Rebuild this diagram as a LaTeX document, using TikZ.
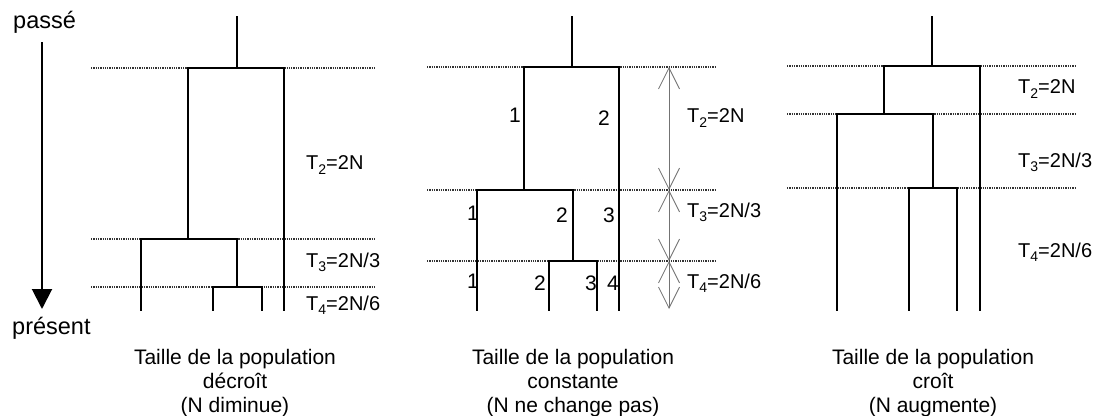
\documentclass[tikz,border=0pt]{standalone}
\usepackage{fontspec}
\setmainfont{Liberation Sans}
\usetikzlibrary{arrows.meta}
\newcommand\sbs[1]{\raisebox{-0.4ex}{\fontsize{14}{14}\selectfont #1}}
\begin{document}
\begin{tikzpicture}[x=1pt,y=-1pt,
  tree/.style={line width=2.2pt,line cap=rect,line join=miter},
  dotline/.style={line width=1.6pt,black!80,dash pattern=on 1.3pt off 1.0pt},
  lab/.style={anchor=west,inner sep=0pt,font=\fontsize{20}{22}\selectfont},
  num/.style={inner sep=0pt,font=\fontsize{21}{23}\selectfont},
  captxt/.style={anchor=base,inner sep=0pt,font=\fontsize{21}{24}\selectfont},
  side/.style={anchor=base west,inner sep=0pt,font=\fontsize{23.5}{26}\selectfont},
  dbl/.style={line width=0.8pt,black!55,{Straight Barb[length=21pt,width=21pt]}-{Straight Barb[length=21pt,width=21pt]}}]
\useasboundingbox (0,0) rectangle (1108,415);
\fill[white] (0,0) rectangle (1108,415);

% time axis
\node[side] (passe) at (13,28) {passé};
\node[side] (present) at (12,334) {présent};
\draw[line width=2pt,-{Triangle[length=20pt,width=20pt]}] (42,42) -- (42,309);

% ---------- panel 1 ----------
\draw[dotline] (91,68) -- (375,68);
\draw[dotline] (91,239) -- (375,239);
\draw[dotline] (91,287) -- (375,287);
\draw[tree] (237,17) -- (237,68);
\draw[tree] (188,239) -- (188,68) -- (284,68) -- (284,310);
\draw[tree] (141,310) -- (141,239) -- (237,239) -- (237,287);
\draw[tree] (213,310) -- (213,287) -- (262,287) -- (262,310);
\node[lab] (a2) at (306,165) {T\sbs{2}=2N};
\node[lab] (a3) at (306,262) {T\sbs{3}=2N/3};
\node[lab] (a4) at (306,305) {T\sbs{4}=2N/6};
\node[captxt] (ac1) at (235,364) {Taille de la population};
\node[captxt] (ac2) at (235,388) {décroît};
\node[captxt] (ac3) at (235,412) {(N diminue)};

% ---------- panel 2 ----------
\draw[dotline] (427,67) -- (715,67);
\draw[dotline] (427,190) -- (715,190);
\draw[dotline] (427,261) -- (715,261);
\draw[tree] (572,17) -- (572,67);
\draw[tree] (524,190) -- (524,67) -- (619,67) -- (619,310);
\draw[tree] (477,310) -- (477,190) -- (573,190) -- (573,261);
\draw[tree] (549,310) -- (549,261) -- (597,261) -- (597,310);
\coordinate (m1) at (669,67);
\coordinate (m2) at (669,190);
\coordinate (m3) at (669,261);
\coordinate (m4) at (669,309);
\draw[dbl] (m1) -- (m2);
\draw[dbl] (m2) -- (m3);
\draw[dbl] (m3) -- (m4);
\node[num] (n11) at (515,115) {1};
\node[num] (n12) at (604,118) {2};
\node[num] (n21) at (473,213) {1};
\node[num] (n22) at (562,215) {2};
\node[num] (n23) at (609,215) {3};
\node[num] (n31) at (473,281) {1};
\node[num] (n32) at (540,283) {2};
\node[num] (n33) at (591,283) {3};
\node[num] (n34) at (613,283) {4};
\node[lab] (b2) at (687,118) {T\sbs{2}=2N};
\node[lab] (b3) at (687,212) {T\sbs{3}=2N/3};
\node[lab] (b4) at (687,283) {T\sbs{4}=2N/6};
\node[captxt] (bc1) at (573,364) {Taille de la population};
\node[captxt] (bc2) at (573,388) {constante};
\node[captxt] (bc3) at (573,412) {(N ne change pas)};

% ---------- panel 3 ----------
\draw[dotline] (787,66) -- (1076,66);
\draw[dotline] (787,114) -- (1076,114);
\draw[dotline] (787,188) -- (1076,188);
\draw[tree] (932,17) -- (932,66);
\draw[tree] (884,114) -- (884,66) -- (980,66) -- (980,310);
\draw[tree] (837,310) -- (837,114) -- (933,114) -- (933,188);
\draw[tree] (909,310) -- (909,188) -- (957,188) -- (957,310);
\node[lab] (c2) at (1018,89) {T\sbs{2}=2N};
\node[lab] (c3) at (1018,162) {T\sbs{3}=2N/3};
\node[lab] (c4) at (1018,252) {T\sbs{4}=2N/6};
\node[captxt] (cc1) at (933,364) {Taille de la population};
\node[captxt] (cc2) at (933,388) {croît};
\node[captxt] (cc3) at (933,412) {(N augmente)};
\end{tikzpicture}
\end{document}
